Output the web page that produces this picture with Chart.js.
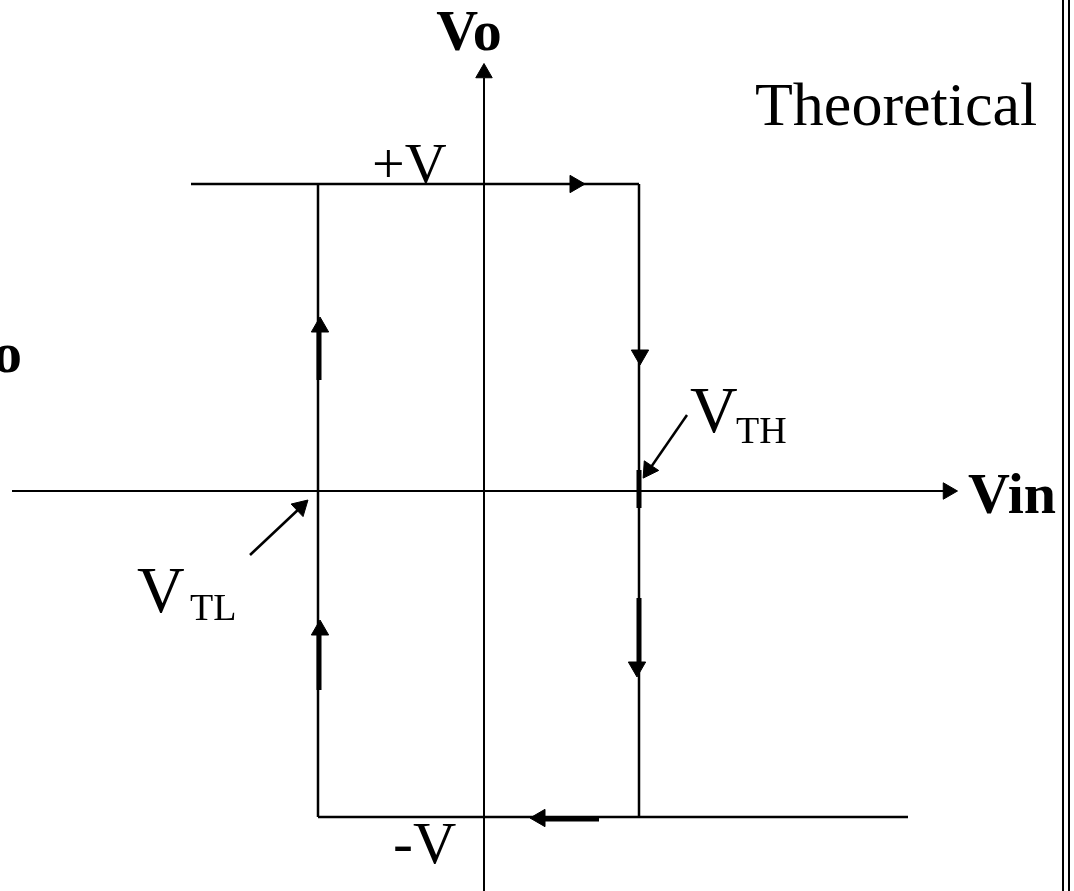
<!DOCTYPE html>
<html><head><meta charset="utf-8">
<script src="https://cdn.jsdelivr.net/npm/chart.js@4"></script>
<style>html,body{margin:0;padding:0;background:#fff;}canvas{display:block;}</style>
</head><body>
<canvas id="c" width="1074" height="891"></canvas>
<script>
// Hysteresis levels (data units)
const VTL = -166, VTH = 155, VPOS = 307, VNEG = -326;
const topStartVin = -293, bottomEndVin = 424;
// Axes extents
const xAxisLine = [[-472, 0], [461, 0]];
const yAxisLine = [[0, -400], [0, 413]];
const axisHeads = [[464, 0, 90], [0, 418, 0]];
// Loop segments
const topLine = [[topStartVin, VPOS], [VTH, VPOS]];
const rightLine = [[VTH, VPOS], [VTH, VNEG]];
const bottomLine = [[VTL, VNEG], [bottomEndVin, VNEG]];
const leftLine = [[VTL, VNEG], [VTL, VPOS]];
// Direction arrows: [x, y, rotationDeg]
const loopHeads = [[91, VPOS, 90], [156, 136, 180], [153, -176, 180], [-164, 164, 0], [-164, -139, 0], [56, -327, 270]];
const thickShafts = [
  [[155, -107], [155, -171]],
  [[-165, 159], [-165, 111]],
  [[-165, -144], [-165, -199]],
  [[61, -328], [115, -328]],
  [[VTH, 21], [VTH, -17]]
];
// Threshold pointers
const pointerLines = [[[203, 76], [165, 21]], [[-234, -64], [-183, -16]]];
const pointerHeads = [[164.7, 21.2, 213.7], [-183.3, -15.9, 46.5]];
// Frame lines
const frameLines = [[[579, -400], [579, 491]], [[585, -400], [585, 491]]];
// Text labels: [text, x, y, font, align]
const labels = [
  ["Vo", -15, 441, "bold 58px 'Liberation Serif'", "center"],
  ["Vin", 484, -22, "bold 58px 'Liberation Serif'", "left"],
  ["Vo", -462, 119, "bold 58px 'Liberation Serif'", "right"],
  ["Theoretical", 271, 366, "62px 'Liberation Serif'", "left"],
  ["+V", -112, 308, "58px 'Liberation Serif'", "left"],
  ["-V", -91, -372, "60px 'Liberation Serif'", "left"],
  ["V", 206, 59, "66px 'Liberation Serif'", "left"],
  ["TH", 252, 48, "38px 'Liberation Serif'", "left"],
  ["V", -347, -121, "66px 'Liberation Serif'", "left"],
  ["TL", -294, -129, "38px 'Liberation Serif'", "left"]
];

const pts = a => a.map(p => ({x: p[0], y: p[1]}));
const line = (a, w) => ({data: pts(a), showLine: true, borderColor: '#000', borderWidth: w, pointRadius: 0, borderCapStyle: 'butt', clip: false});
const heads = (a, r) => ({data: pts(a), showLine: false, pointStyle: 'triangle', pointRadius: r, pointHoverRadius: r,
  pointRotation: a.map(p => p[2]), backgroundColor: '#000', borderColor: '#000', pointBorderWidth: 1, clip: false});

const datasets = [
  line(xAxisLine, 2), line(yAxisLine, 2),
  line(topLine, 2.5), line(rightLine, 2.5), line(bottomLine, 2.5), line(leftLine, 2.5),
  ...thickShafts.map(s => line(s, 5)),
  ...pointerLines.map(s => line(s, 2.5)),
  ...frameLines.map(s => line(s, 2)),
  heads(axisHeads, 9.5), heads(loopHeads, 10), heads(pointerHeads, 10)
];

const textPlugin = {
  id: 'texts',
  afterDraw(chart) {
    const ctx = chart.ctx, xs = chart.scales.x, ys = chart.scales.y;
    ctx.save();
    ctx.fillStyle = '#000';
    ctx.textBaseline = 'alphabetic';
    labels.forEach(([t, x, y, f, al]) => {
      ctx.font = f; ctx.textAlign = al;
      ctx.fillText(t, xs.getPixelForValue(x), ys.getPixelForValue(y));
    });
    ctx.restore();
  }
};

new Chart(document.getElementById('c'), {
  type: 'scatter',
  data: {datasets},
  options: {
    responsive: false, animation: false, devicePixelRatio: 1,
    layout: {padding: 0, autoPadding: false},
    plugins: {legend: {display: false}, tooltip: {enabled: false}, title: {display: false}},
    scales: {
      x: {type: 'linear', min: -484, max: 590, display: false},
      y: {type: 'linear', min: -400, max: 491, display: false}
    },
    events: []
  },
  plugins: [textPlugin]
});
</script>
</body></html>
